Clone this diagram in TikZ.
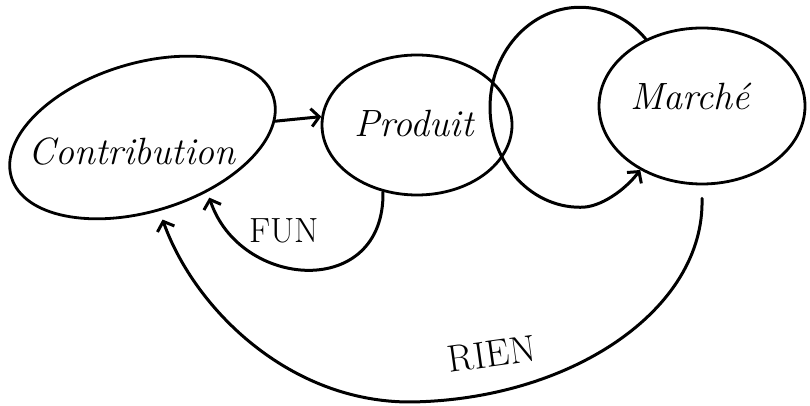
\documentclass[tikz,border=0pt]{standalone}
\usetikzlibrary{shapes.geometric,arrows.meta}
\begin{document}
\begin{tikzpicture}[x=1pt,y=1pt,
  bubble/.style={ellipse, draw, line width=2.8pt, inner sep=0pt},
  conn/.style={line width=3pt, line cap=round, -{Straight Barb[length=8pt,width=18pt,line width=3pt]}},
  lbl/.style={font=\fontsize{38}{38}\selectfont\itshape, inner sep=0pt},
  caps/.style={font=\fontsize{35}{35}\selectfont, inner sep=0pt}]
\useasboundingbox (0,0) rectangle (810,406);
% bubbles
\node[bubble, minimum width=274pt, minimum height=148pt, rotate=17] (contrib) at (142.5,268.5) {};
\node[bubble, minimum width=190pt, minimum height=140pt] (produit) at (417,281) {};
\node[bubble, minimum width=206pt, minimum height=156pt] (marche) at (702,300) {};
% labels
\node[lbl, anchor=base] (tcontrib) at (132,241) {Contribution};
\node[lbl, anchor=base] (tproduit) at (414,269) {Produit};
\node[lbl, anchor=base] (tmarche) at (690,296) {Marché};
\node[caps, anchor=base] (tfun) at (284,163) {FUN};
\node[caps, font=\fontsize{38}{38}\selectfont, rotate=8] (trien) at (492,52) {RIEN};
% connectors
\draw[conn] (contrib.-10) -- (produit.175);
\draw[conn, shorten >=6pt] (produit.243) .. controls (385,106) and (240,116) .. (contrib.-57);
\draw[conn] (marche.130) arc[start angle=43, end angle=270, x radius=90, y radius=100]
  .. controls (600,198) and (625,216) .. (marche.226);
\draw[conn, shorten >=9pt] ([yshift=-13pt]marche.south) .. controls (705,96) and (570,6) .. (410,4)
  .. controls (290,4) and (195,96) .. (contrib.266);
\end{tikzpicture}
\end{document}
